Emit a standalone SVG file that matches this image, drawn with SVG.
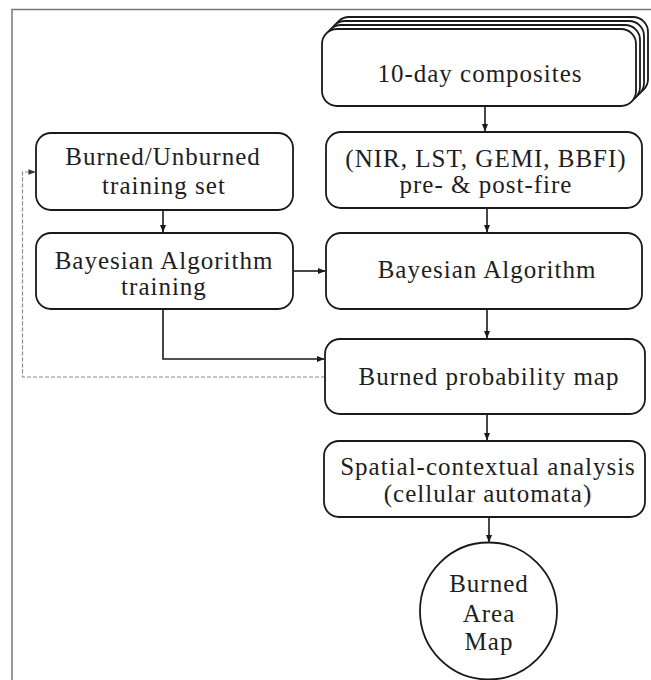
<svg xmlns="http://www.w3.org/2000/svg" width="651" height="680" viewBox="0 0 651 680">
  <style>
    .box { fill: #fff; stroke: #1a1a1a; stroke-width: 1.8; }
    .lbl { font-family: "Liberation Serif", "Times New Roman", serif; font-size: 25px; letter-spacing: 1px; fill: #1e1e1e; text-anchor: middle; }
    .link { fill: none; stroke: #1a1a1a; stroke-width: 1.6; }
    .dash { fill: none; stroke: #8a8a8a; stroke-width: 1.2; stroke-dasharray: 4 2; }
    .frame { fill: none; stroke: #777; stroke-width: 1.5; }
  </style>
  <defs>
    <marker id="arr" viewBox="0 0 8 8" refX="7.5" refY="4" markerWidth="8" markerHeight="8" markerUnits="userSpaceOnUse" orient="auto">
      <path d="M0,0.8 L8,4 L0,7.2 Z" fill="#1a1a1a"/>
    </marker>
    <marker id="arrg" viewBox="0 0 8 8" refX="7.5" refY="4" markerWidth="7" markerHeight="7" markerUnits="userSpaceOnUse" orient="auto">
      <path d="M0,0.8 L8,4 L0,7.2 Z" fill="#333"/>
    </marker>
  </defs>

  <rect width="651" height="680" fill="#fff"/>
  <!-- page frame -->
  <path class="frame" d="M12,680 V9.5 H651"/>

  <g id="connectors">
    <line class="link" x1="485" y1="106" x2="485" y2="131" marker-end="url(#arr)"/>
    <line class="link" x1="487" y1="208" x2="487" y2="232" marker-end="url(#arr)"/>
    <line class="link" x1="487" y1="309" x2="487" y2="338" marker-end="url(#arr)"/>
    <line class="link" x1="487" y1="414" x2="487" y2="440" marker-end="url(#arr)"/>
    <line class="link" x1="489" y1="517" x2="489" y2="542" marker-end="url(#arr)"/>
    <line class="link" x1="163" y1="210" x2="163" y2="232" marker-end="url(#arr)"/>
    <line class="link" x1="293" y1="271" x2="325" y2="271" marker-end="url(#arr)"/>
    <path class="link" d="M163,309 V359 H324" marker-end="url(#arr)"/>
    <path class="dash" d="M325,377 H22.5 V172 H35" marker-end="url(#arrg)"/>
  </g>

  <g id="composites">
    <rect class="box" x="334" y="17" width="314" height="77" rx="15"/>
    <rect class="box" x="330" y="21" width="314" height="77" rx="15"/>
    <rect class="box" x="326" y="25" width="314" height="77" rx="15"/>
    <rect class="box" x="322" y="29" width="314" height="77" rx="15"/>
    <text class="lbl" x="480" y="82">10-day composites</text>
  </g>

  <g id="indices">
    <rect class="box" x="326" y="132" width="316" height="76" rx="15"/>
    <text class="lbl" x="486" y="167">(NIR, LST, GEMI, BBFI)</text>
    <text class="lbl" x="486" y="193">pre- &amp; post-fire</text>
  </g>

  <g id="bayesian">
    <rect class="box" x="326" y="233" width="316" height="76" rx="15"/>
    <text class="lbl" x="487" y="278">Bayesian Algorithm</text>
  </g>

  <g id="probability-map">
    <rect class="box" x="325" y="339" width="320" height="75" rx="15"/>
    <text class="lbl" x="489" y="385">Burned probability map</text>
  </g>

  <g id="spatial-analysis">
    <rect class="box" x="324" y="441" width="321" height="76" rx="15"/>
    <text class="lbl" x="488" y="475">Spatial-contextual analysis</text>
    <text class="lbl" x="488" y="502">(cellular automata)</text>
  </g>

  <g id="burned-area-map">
    <circle class="box" cx="488.5" cy="611" r="68.5"/>
    <text class="lbl" x="489" y="592">Burned</text>
    <text class="lbl" x="489" y="622">Area</text>
    <text class="lbl" x="489" y="650">Map</text>
  </g>

  <g id="training-set">
    <rect class="box" x="36" y="133" width="257" height="77" rx="15"/>
    <text class="lbl" x="163" y="165">Burned/Unburned</text>
    <text class="lbl" x="164" y="194">training set</text>
  </g>

  <g id="training">
    <rect class="box" x="36" y="233" width="257" height="76" rx="15"/>
    <text class="lbl" x="164" y="269">Bayesian Algorithm</text>
    <text class="lbl" x="164" y="295">training</text>
  </g>
</svg>
